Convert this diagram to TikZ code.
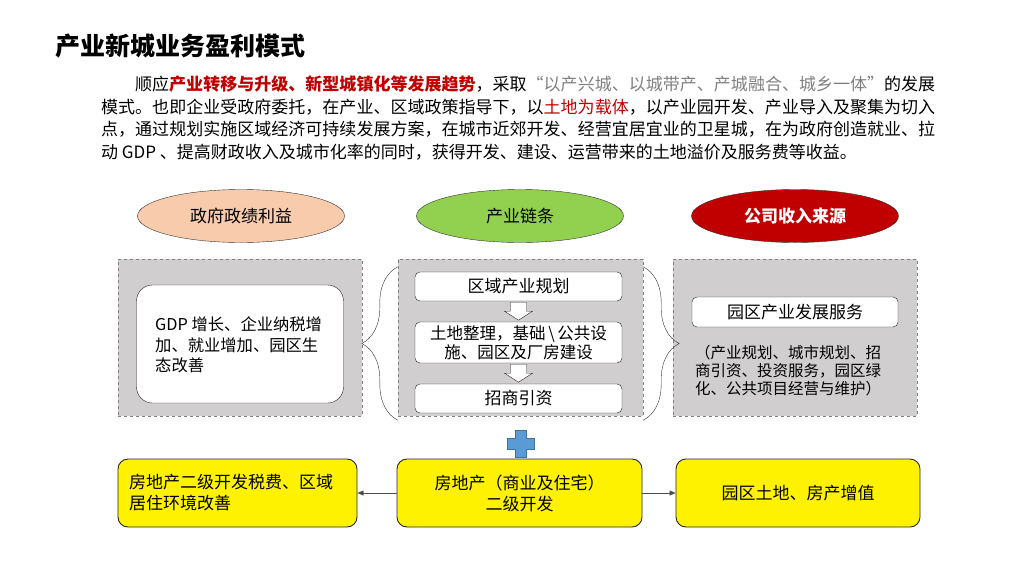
\documentclass[tikz,border=0pt]{standalone}
\usepackage{fontspec}
\setmainfont{Noto Sans CJK SC}
\usetikzlibrary{shapes.geometric,arrows.meta,decorations.pathreplacing}
\XeTeXlinebreaklocale "zh"
\XeTeXlinebreakskip=0pt plus 1pt
\definecolor{peach}{HTML}{F8CBAD}
\definecolor{leaf}{HTML}{92D050}
\definecolor{brick}{HTML}{C00000}
\definecolor{panelgray}{HTML}{D0CECE}
\definecolor{plusblue}{HTML}{5B9BD5}
\definecolor{plusedge}{HTML}{41719C}

\begin{document}
\begin{tikzpicture}[x=1pt,y=-1pt,font=\fontsize{17}{21}\selectfont,
 oval/.style={ellipse,draw=black!80,minimum width=207pt,minimum height=53pt,inner sep=0pt},
 panel/.style={draw=gray,dashed,fill=panelgray,minimum height=157pt,inner sep=0pt},
 card/.style={draw=black!85,fill=white,rounded corners=5pt,minimum width=207pt,inner sep=0pt},
 goldbox/.style={draw=black!85,line width=.9pt,fill=yellow,rounded corners=10pt,minimum height=68pt,inner sep=0pt},
 brace/.style={decorate,decoration={brace,amplitude=36pt},draw=black!80},
 link/.style={-{Triangle[length=6pt,width=5pt]},draw=black!70}]
\useasboundingbox (0,0) rectangle (1024,576);
\node[anchor=west,font=\fontsize{25}{30}\selectfont\bfseries] (title) at (52,46) {产业新城业务盈利模式};
\node[anchor=north west,inner sep=0pt,text width=834pt,align=justify,font=\fontsize{17}{22.4}\selectfont] (intro) at (101,76)
 {\hspace*{2em}顺应{\color{brick}\bfseries 产业转移与升级、新型城镇化等发展趋势}，采取{\color{gray}“以产兴城、以城带产、产城融合、城乡一体”}的发展\linebreak
 模式。也即企业受政府委托，在产业、区域政策指导下，以{\color{brick}土地为载体}，以产业园开发、产业导入及聚集为切入\linebreak
 点，通过规划实施区域经济可持续发展方案，在城市近郊开发、经营宜居宜业的卫星城，在为政府创造就业、拉\linebreak
 动 GDP 、提高财政收入及城市化率的同时，获得开发、建设、运营带来的土地溢价及服务费等收益。};

\node[oval,fill=peach] (gov) at (241,216) {政府政绩利益};
\node[oval,fill=leaf] (chain) at (520,216) {产业链条};
\node[oval,fill=brick,text=white,font=\fontsize{17}{21}\selectfont\bfseries] (income) at (795,216) {公司收入来源};

\node[panel,minimum width=244pt] (lpanel) at (240,337.5) {};
\node[panel,minimum width=245pt] (mpanel) at (520.5,337.5) {};
\node[panel,minimum width=244pt] (rpanel) at (795,337.5) {};

\node[card,rounded corners=16pt,minimum height=118pt] (gdp) at (240,344) {};
\node[anchor=west,align=left,inner sep=0pt,font=\fontsize{16.3}{20.3}\selectfont] (gdptext) at (155,345) {GDP 增长、企业纳税增\\加、就业增加、园区生\\态改善};

\node[card,minimum height=29pt] (plan) at (518.5,286.5) {区域产业规划};
\node[card,minimum height=41pt,align=center,font=\fontsize{16.5}{19}\selectfont] (build) at (518.5,342.5) {土地整理，基础\,\textbackslash\,公共设\\施、园区及厂房建设};
\node[card,minimum height=29pt] (invest) at (518.5,398.5) {招商引资};
\foreach \a/\b in {plan/build,build/invest}{
 \draw[draw=black!85,fill=white] ([xshift=-8pt,yshift=-1pt]\a.south) -- ++(0,9) -- ++(-6,0) -- ++(14,9) -- ++(14,-9) -- ++(-6,0) -- ++(0,-9) -- cycle;
}

\node[card,minimum width=206pt,minimum height=30pt] (service) at (795,312) {园区产业发展服务};
\node[align=center,inner sep=0pt,font=\fontsize{15.5}{18}\selectfont] (scope) at (788,371) {（产业规划、城市规划、招\\商引资、投资服务，园区绿\\化、公共项目经营与维护）};

\draw[brace] ([yshift=-4pt]mpanel.south west) -- ([yshift=-8pt]mpanel.north west);
\draw[brace] ([yshift=-8pt]mpanel.north east) -- ([yshift=-4pt]mpanel.south east);

\draw[fill=plusblue,draw=plusedge] (515,430) -- ++(11,0) -- ++(0,8) -- ++(8,0) -- ++(0,11) -- ++(-8,0) -- ++(0,8) -- ++(-11,0) -- ++(0,-8) -- ++(-8,0) -- ++(0,-11) -- ++(8,0) -- cycle;

\node[goldbox,minimum width=239pt,text width=217pt,inner xsep=11pt,align=left] (tax) at (237.5,493) {房地产二级开发税费、区域\\居住环境改善};
\node[goldbox,minimum width=245pt,align=center] (estate) at (519.5,493) {房地产（商业及住宅）\\二级开发};
\node[goldbox,minimum width=244pt] (gain) at (798,493) {园区土地、房产增值};
\draw[link] (estate) -- (tax);
\draw[link] (estate) -- (gain);
\end{tikzpicture}
\end{document}
